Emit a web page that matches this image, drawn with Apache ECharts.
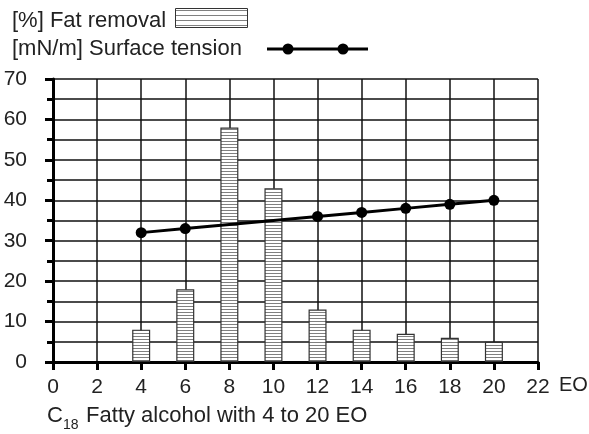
<!DOCTYPE html>
<html>
<head>
<meta charset="utf-8">
<script src="https://cdn.jsdelivr.net/npm/echarts@6/dist/echarts.min.js"></script>
<style>
html,body{margin:0;padding:0;background:#fff;}
#chart{width:589px;height:434px;}
</style>
</head>
<body>
<div id="chart"></div>
<script>
// ---- data ----
const eoValues = [4, 6, 8, 10, 12, 14, 16, 18, 20];
const fatRemoval = [8, 18, 58, 43, 13, 8, 7, 6, 5];
const surfaceTension = [32, 33, 34, 35, 36, 37, 38, 39, 40];
const tensionMarkerVisible = [true, true, false, false, true, true, true, true, true];
const xMin = 0, xMax = 22, xStep = 2;
const yMin = 0, yMax = 70, yStep = 10;
const fatLegend = '[%] Fat removal';
const tensionLegend = '[mN/m] Surface tension';
const xAxisName = 'EO';
const captionMain = 'C';
const captionSub = '18';
const captionRest = ' Fatty alcohol with 4 to 20 EO';

// ---- stripe patterns ----
function makeStripe(period) {
  const c = document.createElement('canvas');
  c.width = 4; c.height = period;
  const ctx = c.getContext('2d');
  ctx.fillStyle = '#ffffff';
  ctx.fillRect(0, 0, 4, period);
  ctx.fillStyle = '#808080';
  ctx.fillRect(0, 0, 4, 1);
  return c;
}
const stripe = makeStripe(3);
const legendStripe = makeStripe(5);

const FONT = "'Liberation Sans', Arial, Helvetica, sans-serif";
const FS = 21;
const FS_TXT = 22;
const chart = echarts.init(document.getElementById('chart'), null, {renderer: 'canvas'});

const barData = eoValues.map((x, i) => [x, fatRemoval[i]]);
const lineData = eoValues.map((x, i) => ({
  value: [x, surfaceTension[i]],
  symbol: tensionMarkerVisible[i] ? 'circle' : 'none'
}));

chart.setOption({
  animation: false,
  backgroundColor: '#fff',
  grid: {left: 53, right: 51, top: 79, bottom: 72, containLabel: false},
  xAxis: {
    type: 'value', min: xMin, max: xMax, interval: xStep,
    axisLine: {show: true, onZero: false, lineStyle: {color: '#000', width: 3}},
    axisTick: {show: true, inside: false, length: 8, lineStyle: {color: '#000', width: 3}},
    axisLabel: {color: '#222', fontSize: FS, fontFamily: FONT, margin: 15, showMinLabel: true, showMaxLabel: true},
    splitLine: {show: true, lineStyle: {color: '#111', width: 1.5}}
  },
  yAxis: {
    type: 'value', min: yMin, max: yMax, interval: yStep,
    axisLine: {show: true, lineStyle: {color: '#000', width: 3}},
    axisTick: {show: true, inside: false, length: 8, lineStyle: {color: '#000', width: 3}},
    minorTick: {show: true, splitNumber: 2, length: 6, lineStyle: {color: '#000', width: 3}},
    minorSplitLine: {show: true, lineStyle: {color: '#111', width: 1.5}},
    axisLabel: {color: '#222', fontSize: FS, fontFamily: FONT, margin: 26},
    splitLine: {show: true, lineStyle: {color: '#111', width: 1.5}}
  },
  series: [
    {
      type: 'bar', data: barData, barWidth: 18, z: 2,
      itemStyle: {color: {image: stripe, repeat: 'repeat'}, borderColor: '#333', borderWidth: 1.2}
    },
    {
      type: 'line', data: lineData, z: 3,
      symbolSize: 11,
      lineStyle: {color: '#000', width: 3},
      itemStyle: {color: '#000'}
    }
  ],
  graphic: [
    {type: 'text', left: 12, top: 10, style: {text: fatLegend, fontSize: FS_TXT, fontFamily: FONT, fill: '#222'}},
    {type: 'rect', shape: {x: 175.5, y: 8.5, width: 72, height: 19},
     style: {fill: {image: legendStripe, repeat: 'repeat'}, stroke: '#333', lineWidth: 1}},
    {type: 'text', left: 12, top: 38, style: {text: tensionLegend, fontSize: FS_TXT, fontFamily: FONT, fill: '#222'}},
    {type: 'line', shape: {x1: 267, y1: 49, x2: 368, y2: 49}, style: {stroke: '#000', lineWidth: 3}},
    {type: 'circle', shape: {cx: 288, cy: 49, r: 5.5}, style: {fill: '#000'}},
    {type: 'circle', shape: {cx: 343, cy: 49, r: 5.5}, style: {fill: '#000'}},
    {type: 'text', x: 559, y: 385, style: {text: xAxisName, fontSize: 20, fontFamily: FONT, fill: '#222', verticalAlign: 'middle', align: 'left'}},
    {type: 'text', left: 47, top: 405, style: {text: captionMain, fontSize: FS_TXT, fontFamily: FONT, fill: '#222'}},
    {type: 'text', left: 63, top: 418, style: {text: captionSub, fontSize: 14, fontFamily: FONT, fill: '#222'}},
    {type: 'text', left: 80, top: 405, style: {text: captionRest, fontSize: FS_TXT, fontFamily: FONT, fill: '#222'}}
  ]
});
</script>
</body>
</html>
